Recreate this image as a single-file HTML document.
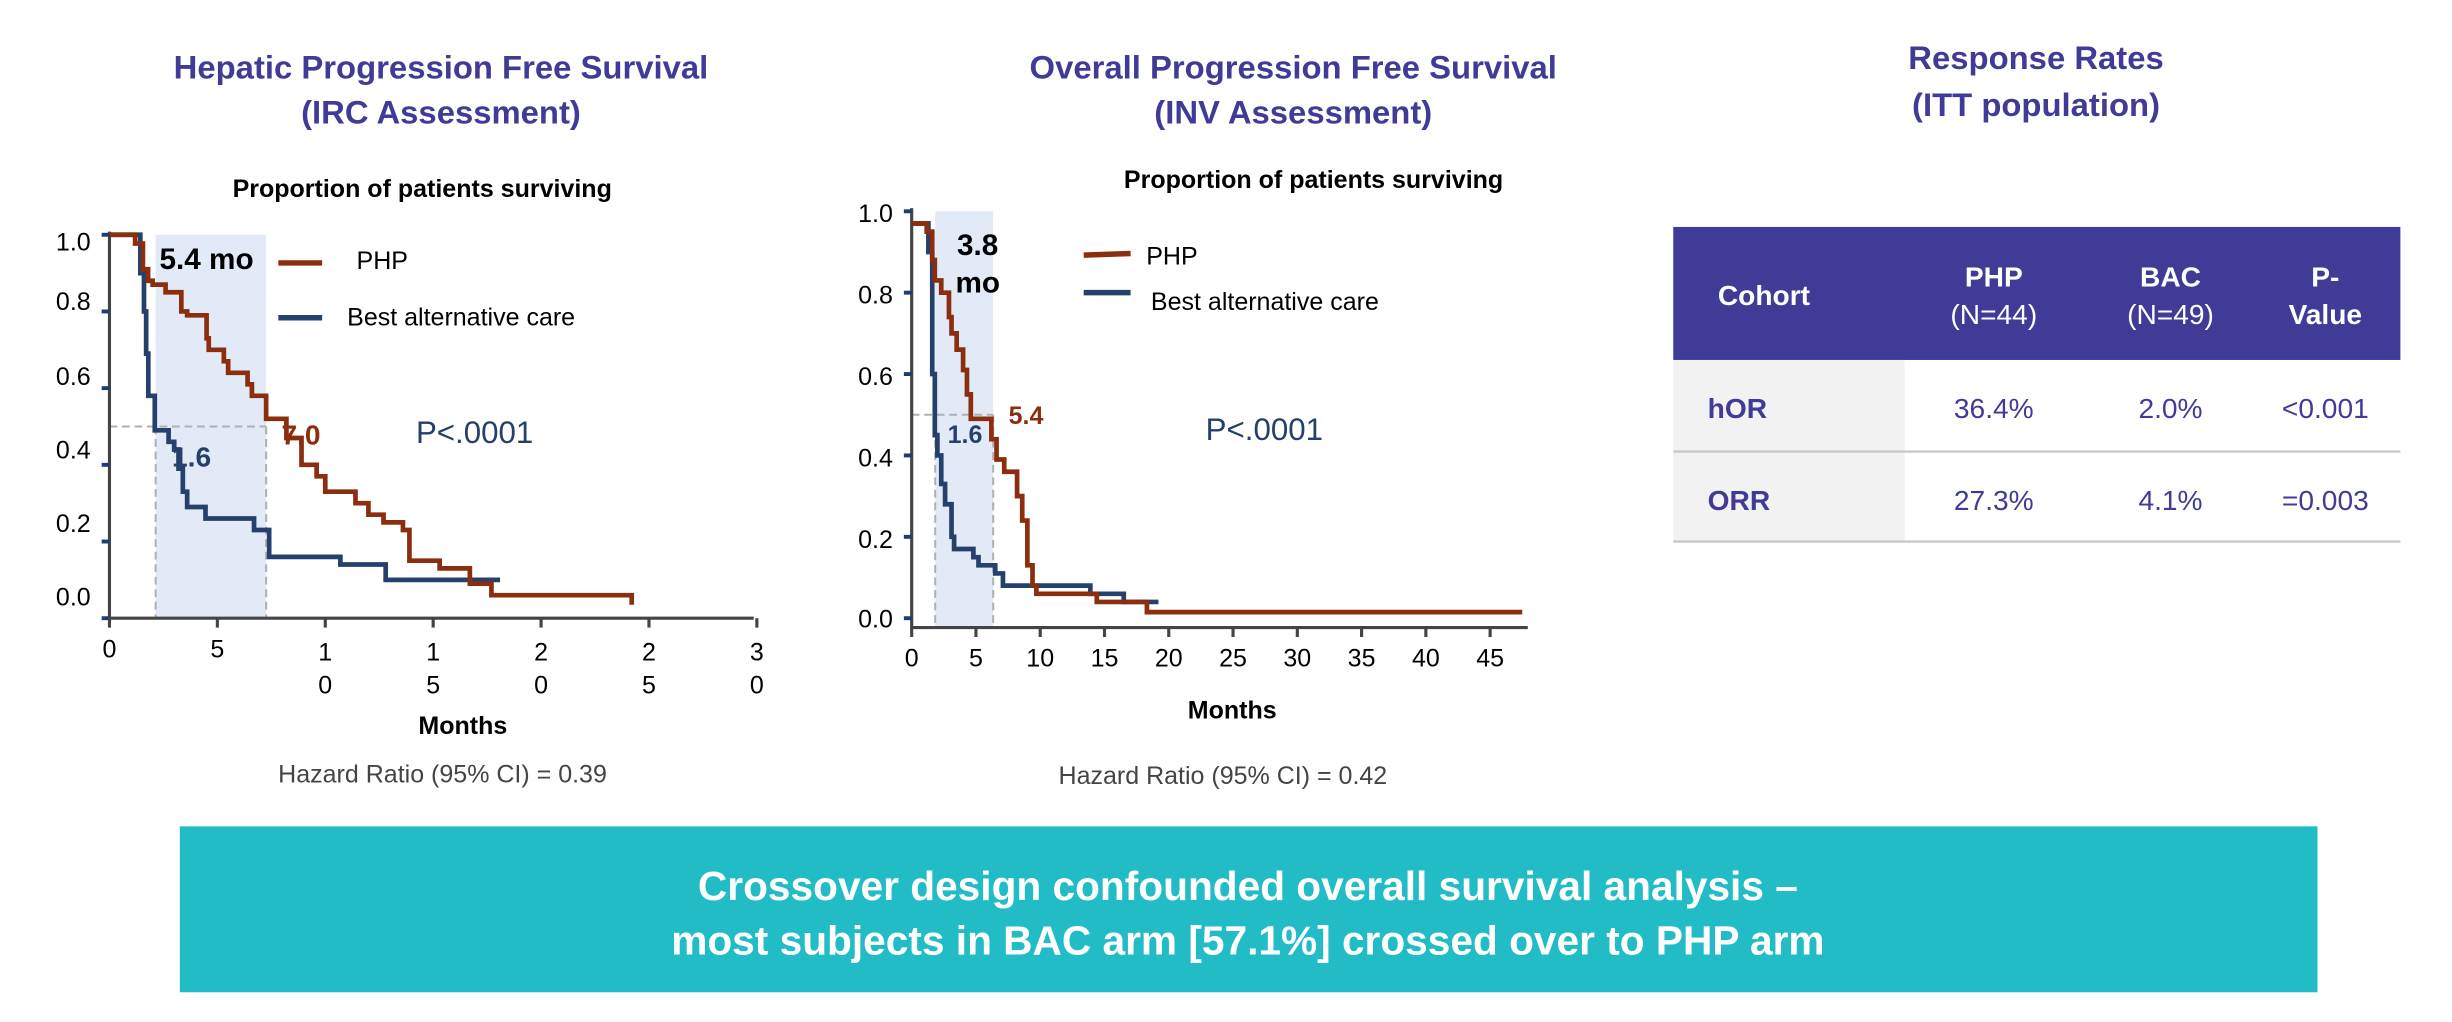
<!DOCTYPE html>
<html><head><meta charset="utf-8"><style>
html,body{margin:0;padding:0;background:#fff;}
svg{display:block;}
text{font-family:"Liberation Sans",Arial,sans-serif;}
</style></head><body>
<svg id="root" width="2452" height="1022" viewBox="0 0 1568 653" preserveAspectRatio="none">
<g fill="#3f3b97" font-weight="bold" font-size="21" text-anchor="middle">
<text x="282" y="50">Hepatic Progression Free Survival</text>
<text x="282" y="79">(IRC Assessment)</text>
<text x="827" y="50">Overall Progression Free Survival</text>
<text x="827" y="79">(INV Assessment)</text>
<text x="1302" y="44">Response Rates</text>
<text x="1302" y="74">(ITT population)</text>
</g>
<g id="c1"></g>
<g id="c2"></g>
<g>
<rect x="1070" y="145" width="465" height="85" fill="#3f3b97"/>
<rect x="1070" y="230" width="148" height="116" fill="#f2f2f2"/>
<line x1="1070" y1="288.5" x2="1535" y2="288.5" stroke="#c8c8c8" stroke-width="1.5"/>
<line x1="1070" y1="346" x2="1535" y2="346" stroke="#c8c8c8" stroke-width="1.5"/>
<g fill="#fff" font-size="18" text-anchor="middle">
<text x="1128" y="195" font-weight="bold">Cohort</text>
<text x="1275" y="183" font-weight="bold">PHP</text>
<text x="1275" y="207">(N=44)</text>
<text x="1388" y="183" font-weight="bold">BAC</text>
<text x="1388" y="207">(N=49)</text>
<text x="1487" y="183" font-weight="bold">P-</text>
<text x="1487" y="207" font-weight="bold">Value</text>
</g>
<g fill="#3f3b97" font-size="18" text-anchor="middle">
<text x="1111" y="267" font-weight="bold">hOR</text>
<text x="1275" y="267">36.4%</text>
<text x="1388" y="267">2.0%</text>
<text x="1487" y="267">&lt;0.001</text>
<text x="1112" y="326" font-weight="bold">ORR</text>
<text x="1275" y="326">27.3%</text>
<text x="1388" y="326">4.1%</text>
<text x="1487" y="326">=0.003</text>
</g>
</g>
<rect x="115" y="528" width="1367" height="106" fill="#21bcc5"/>
<g fill="#fff" font-weight="bold" font-size="26" text-anchor="middle">
<text x="798" y="575">Crossover design confounded overall survival analysis –</text>
<text x="798" y="610">most subjects in BAC arm [57.1%] crossed over to PHP arm</text>
</g>
</svg>
<script>
// Chart 1: Hepatic PFS (months, survival proportion)
const c1PhpMonths = [0,1.19,1.55,1.79,2.0,2.6,3.33,3.6,4.5,4.6,5.3,5.5,6.4,6.6,7.26,8.2,8.9,9.6,10.0,11.4,12.0,12.7,13.6,13.9,15.3,16.7,17.7,24.2];
const c1PhpSurv   = [1.0,0.977,0.91,0.88,0.87,0.85,0.80,0.79,0.73,0.70,0.67,0.64,0.61,0.58,0.52,0.47,0.40,0.37,0.33,0.30,0.27,0.25,0.23,0.15,0.13,0.09,0.06,0.035];
const c1PhpEnd = 24.2;
const c1BacMonths = [0,1.43,1.6,1.7,1.8,2.1,2.74,3.0,3.2,3.4,3.6,4.45,6.7,7.4,10.7,12.8];
const c1BacSurv   = [1.0,0.9,0.8,0.69,0.58,0.49,0.46,0.44,0.39,0.33,0.29,0.26,0.23,0.16,0.14,0.10];
const c1BacEnd = 18.1;
const c1YTicks = ["1.0","0.8","0.6","0.4","0.2","0.0"];
const c1XTicks = [0,5,10,15,20,25,30];
// Chart 2: Overall PFS
const c2PhpMonths = [0,1.17,1.6,1.8,2.3,2.9,3.1,3.5,4.0,4.3,4.6,6.2,6.6,7.2,8.2,8.6,9.0,9.4,9.7,14.4,18.3];
const c2PhpSurv   = [0.97,0.95,0.88,0.83,0.80,0.74,0.70,0.66,0.61,0.55,0.49,0.44,0.39,0.36,0.30,0.24,0.13,0.08,0.06,0.04,0.015];
const c2PhpEnd = 47.5;
const c2BacMonths = [0,1.3,1.6,1.8,2.0,2.3,2.6,3.1,3.3,4.8,5.2,6.5,7.1,13.9,16.5];
const c2BacSurv   = [0.97,0.9,0.6,0.45,0.40,0.33,0.28,0.20,0.17,0.15,0.13,0.11,0.08,0.06,0.04];
const c2BacEnd = 19.2;
const c2YTicks = ["1.0","0.8","0.6","0.4","0.2","0.0"];
const c2XTicks = [0,5,10,15,20,25,30,35,40,45];

const NS="http://www.w3.org/2000/svg";
function mk(parent,tag,attrs,txt){const e=document.createElementNS(NS,tag);for(const k in attrs)e.setAttribute(k,attrs[k]);if(txt!==undefined)e.textContent=txt;parent.appendChild(e);return e;}
function stepPath(xs,ys,end,X,Y){let d="M"+X(xs[0])+","+Y(ys[0]);for(let i=1;i<xs.length;i++){d+=" H"+X(xs[i])+" V"+Y(ys[i]);}d+=" H"+X(end);return d;}

function drawChart(g,o){
  const X=m=>o.x0+m*o.px, Y=s=>o.y0-s*o.py;
  const band=mk(g,"rect",{x:X(o.band[0]),y:Y(1),width:X(o.band[1])-X(o.band[0]),height:Y(0)-Y(1)+(o.axisY-Y(0)),fill:"#e3eaf7"});
  
  
  const dash={stroke:"#b0b0b0","stroke-width":1.3,"stroke-dasharray":"5,3",fill:"none"};
  mk(g,"path",Object.assign({d:`M${X(0)},${Y(0.5)} H${X(o.band[1])} M${X(o.band[0])},${Y(0.5)} V${o.axisY} M${X(o.band[1])},${Y(0.5)} V${o.axisY}`},dash));
  const ax=mk(g,"path",{d:`M${X(0)},${Y(1)-2} V${o.axisY} H${o.xEnd}`,stroke:"#444",fill:"none","stroke-width":2});
  
  
  o.yTicks.forEach((t,i)=>{const v=1-i*0.2;const yy=Y(v);
    mk(g,"line",{x1:X(0)-5,y1:yy,x2:X(0),y2:yy,stroke:"#1f3b74","stroke-width":2.5});
    const tx=mk(g,"text",{x:X(0)-12,y:yy+o.labOff[i],"text-anchor":"end","font-size":16,fill:"#000"},t);
    
    
  });
  o.xTicks.forEach(t=>{const xx=X(t);
    mk(g,"line",{x1:xx,y1:o.axisY,x2:xx,y2:o.axisY+6,stroke:"#444","stroke-width":2});
    const s=String(t);
    if(o.split&&s.length>1){
      mk(g,"text",{x:xx,y:o.axisY+27,"text-anchor":"middle","font-size":16},s[0]);
      mk(g,"text",{x:xx,y:o.axisY+48,"text-anchor":"middle","font-size":16},s[1]);
    } else {
      const tx=mk(g,"text",{x:xx,y:o.axisY+25,"text-anchor":"middle","font-size":16},s);
      
      
    }
  });
  const b=mk(g,"path",{d:stepPath(o.bacM,o.bacS,o.bacEnd,X,Y),stroke:"#24406b",fill:"none","stroke-width":3});
  
  
  const p=mk(g,"path",{d:stepPath(o.phpM,o.phpS,o.phpEnd,X,Y),stroke:"#8b2e0f",fill:"none","stroke-width":3});
  
  
}

const g1=document.getElementById('c1');


drawChart(g1,{x0:70,px:13.8,y0:395,py:245,axisY:395,xEnd:482,band:[2.14,7.26],
  yTicks:c1YTicks,xTicks:c1XTicks,labOff:[10,-1,-2,-4,-6,-8],split:true,
  phpM:c1PhpMonths,phpS:c1PhpSurv,phpEnd:c1PhpEnd,bacM:c1BacMonths,bacS:c1BacSurv,bacEnd:c1BacEnd});
const g2=document.getElementById('c2');


drawChart(g2,{x0:583,px:8.22,y0:395,py:260,axisY:401,xEnd:977,band:[1.83,6.34],
  yTicks:c2YTicks,xTicks:c2XTicks,labOff:[7,7,7,7,7,6],split:false,
  phpM:c2PhpMonths,phpS:c2PhpSurv,phpEnd:c2PhpEnd,bacM:c2BacMonths,bacS:c2BacSurv,bacEnd:c2BacEnd});
</script>
<script>
(function(){
const root=document.getElementById('root');
const html=`
<text x="270" y="126" text-anchor="middle" font-size="16" font-weight="bold">Proportion of patients surviving</text>
<line x1="178" y1="168" x2="206" y2="168" stroke="#8b2e0f" stroke-width="3.5"/>
<text x="228" y="172" font-size="16">PHP</text>
<line x1="178" y1="203" x2="206" y2="203" stroke="#24406b" stroke-width="3.5"/>
<text x="222" y="208" font-size="16">Best alternative care</text>
<text x="102" y="172" font-size="19" font-weight="bold">5.4 mo</text>
<text x="180" y="284" font-size="18" font-weight="bold" fill="#8b2e0f">7.0</text>
<text x="110" y="298" font-size="18" font-weight="bold" fill="#24406b">1.6</text>
<text x="266" y="283" font-size="20" fill="#24406b">P&lt;.0001</text>
<text x="296" y="469" text-anchor="middle" font-size="16" font-weight="bold">Months</text>
<text x="283" y="500" text-anchor="middle" font-size="16" fill="#444">Hazard Ratio (95% CI) = 0.39</text>
<text x="840" y="120" text-anchor="middle" font-size="16" font-weight="bold">Proportion of patients surviving</text>
<line x1="693" y1="163" x2="723" y2="162" stroke="#8b2e0f" stroke-width="3.5"/>
<text x="733" y="169" font-size="16">PHP</text>
<line x1="693" y1="187" x2="723" y2="187" stroke="#24406b" stroke-width="3.5"/>
<text x="736" y="198" font-size="16">Best alternative care</text>
<text x="612" y="163" font-size="19" font-weight="bold">3.8</text>
<text x="611" y="187" font-size="19" font-weight="bold">mo</text>
<text x="645" y="271" font-size="16" font-weight="bold" fill="#8b2e0f">5.4</text>
<text x="606" y="283" font-size="16" font-weight="bold" fill="#24406b">1.6</text>
<text x="771" y="281" font-size="20" fill="#24406b">P&lt;.0001</text>
<text x="788" y="459" text-anchor="middle" font-size="16" font-weight="bold">Months</text>
<text x="782" y="501" text-anchor="middle" font-size="16" fill="#444">Hazard Ratio (95% CI) = 0.42</text>`;
const tmp=document.createElementNS("http://www.w3.org/2000/svg","g");
tmp.innerHTML=html;


root.appendChild(tmp);
})();
</script>
</body></html>
